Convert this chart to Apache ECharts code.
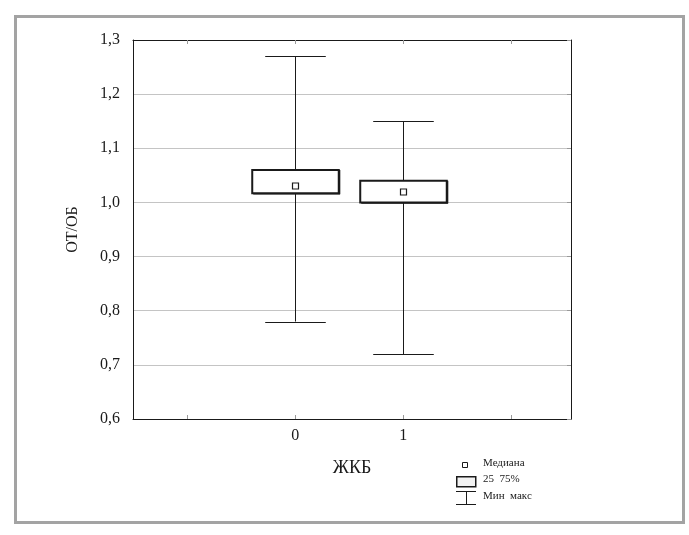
<!DOCTYPE html>
<html>
<head>
<meta charset="utf-8">
<script src="https://cdn.jsdelivr.net/npm/echarts@6/dist/echarts.min.js"></script>
<style>
  html, body { margin: 0; padding: 0; background: #fff; }
</style>
</head>
<body>
<div id="chart" style="width:689px;height:535px;"></div>
<script>
  // ЖКБ groups and box statistics for ОТ/ОБ
  const groups = [0, 1];
  const whiskerLow = [0.78, 0.72];
  const quart25 = [1.017, 1.0];
  const medians = [1.03, 1.02];
  const quart75 = [1.06, 1.04];
  const whiskerHigh = [1.27, 1.15];
  const xTickValues = [-1, 0, 1, 2];
  const legendLabels = ['Медиана', '25  75%', 'Мин  макс'];

  const font = '"Liberation Serif", "DejaVu Serif", serif';
  const ink = '#1a1a1a';

  const boxData = groups.map((g, i) => [g, whiskerLow[i], quart25[i], medians[i], quart75[i], whiskerHigh[i]]);

  function renderBox(params, api) {
    const x = api.value(0);
    const pMin = api.coord([x, api.value(1)]);
    const pQ1 = api.coord([x, api.value(2)]);
    const pMed = api.coord([x, api.value(3)]);
    const pQ3 = api.coord([x, api.value(4)]);
    const pMax = api.coord([x, api.value(5)]);
    const boxHalf = api.size([0.4, 0])[0];
    const capHalf = api.size([0.28, 0])[0];
    const cx = Math.round(pMin[0]) + 0.5;
    const lineStyle = { stroke: ink, lineWidth: 1 };
    return {
      type: 'group',
      children: [
        { type: 'line', shape: { x1: cx, y1: pMax[1], x2: cx, y2: pMin[1] }, style: lineStyle },
        { type: 'line', shape: { x1: cx - capHalf, y1: Math.round(pMax[1]) + 0.5, x2: cx + capHalf, y2: Math.round(pMax[1]) + 0.5 }, style: lineStyle },
        { type: 'line', shape: { x1: cx - capHalf, y1: Math.round(pMin[1]) + 0.5, x2: cx + capHalf, y2: Math.round(pMin[1]) + 0.5 }, style: lineStyle },
        {
          type: 'rect',
          shape: { x: cx - boxHalf, y: pQ3[1], width: boxHalf * 2, height: pQ1[1] - pQ3[1] },
          style: { fill: '#fff', stroke: ink, lineWidth: 2 }
        },
        {
          type: 'line',
          shape: { x1: cx - boxHalf + 1, y1: pQ1[1] + 0.5, x2: cx + boxHalf + 1, y2: pQ1[1] + 0.5 },
          style: { stroke: ink, lineWidth: 1.5 }
        },
        {
          type: 'line',
          shape: { x1: cx + boxHalf + 0.8, y1: pQ3[1], x2: cx + boxHalf + 0.8, y2: pQ1[1] + 1 },
          style: { stroke: ink, lineWidth: 1.5 }
        },
        {
          type: 'rect',
          shape: { x: cx - 3, y: Math.round(pMed[1]) - 3, width: 6, height: 6 },
          style: { fill: '#fff', stroke: ink, lineWidth: 1.2 }
        }
      ]
    };
  }

  const legendX = 456;
  const legendText = (y, s) => ({
    type: 'text', left: legendX + 27, top: y,
    style: { text: s, font: '11px ' + font, fill: ink }
  });

  const chart = echarts.init(document.getElementById('chart'));
  chart.setOption({
    animation: false,
    backgroundColor: '#fff',
    grid: { left: 133, right: 118, top: 40, bottom: 116 },
    xAxis: [
      {
        type: 'value', min: -1.5, max: 2.55,
        name: 'ЖКБ', nameLocation: 'middle', nameGap: 40,
        nameTextStyle: { fontFamily: font, fontSize: 18, color: ink },
        axisLine: { show: true, onZero: false, lineStyle: { color: ink } },
        axisTick: { show: true, inside: true, length: 4, customValues: xTickValues, lineStyle: { color: '#999' } },
        axisLabel: { customValues: groups, fontFamily: font, fontSize: 16, color: ink, margin: 9 },
        splitLine: { show: false }
      },
      {
        type: 'value', min: -1.5, max: 2.55, position: 'top',
        axisLine: { show: true, onZero: false, lineStyle: { color: ink } },
        axisTick: { show: true, inside: true, length: 4, customValues: xTickValues, lineStyle: { color: '#999' } },
        axisLabel: { show: false },
        splitLine: { show: false }
      }
    ],
    yAxis: [
      {
        type: 'value', min: 0.6, max: 1.3, interval: 0.1,
        name: 'ОТ/ОБ', nameLocation: 'middle', nameGap: 52,
        nameTextStyle: { fontFamily: font, fontSize: 16, color: ink },
        axisLine: { show: true, onZero: false, lineStyle: { color: ink } },
        axisTick: { show: false },
        axisLabel: {
          fontFamily: font, fontSize: 16, color: ink, margin: 13,
          formatter: v => v.toFixed(1).replace('.', ',')
        },
        splitLine: { show: true, lineStyle: { color: '#c4c4c4', width: 1 } }
      },
      {
        type: 'value', min: 0.6, max: 1.3, interval: 0.1, position: 'right',
        axisLine: { show: true, onZero: false, lineStyle: { color: ink } },
        axisTick: { show: true, inside: true, length: 4, lineStyle: { color: '#999' } },
        axisLabel: { show: false },
        splitLine: { show: false }
      }
    ],
    series: [
      {
        type: 'custom',
        renderItem: renderBox,
        encode: { x: 0, y: [1, 2, 3, 4, 5] },
        data: boxData,
        clip: false,
        z: 5
      }
    ],
    graphic: [
      {
        type: 'rect', left: 13, top: 14, silent: true,
        shape: { width: 668, height: 506 },
        style: { fill: 'none', stroke: '#a3a3a3', lineWidth: 3 }
      },
      // legend
      { type: 'rect', left: legendX + 6, top: 462, shape: { width: 5, height: 5 }, style: { fill: '#fff', stroke: ink, lineWidth: 1 } },
      legendText(458, legendLabels[0]),
      { type: 'rect', left: legendX, top: 476, shape: { width: 19, height: 10 }, style: { fill: '#f2f2f2', stroke: ink, lineWidth: 1.5 } },
      legendText(474, legendLabels[1]),
      { type: 'line', shape: { x1: legendX, y1: 491.5, x2: legendX + 20, y2: 491.5 }, style: { stroke: ink, lineWidth: 1 } },
      { type: 'line', shape: { x1: legendX + 10.5, y1: 491.5, x2: legendX + 10.5, y2: 504.5 }, style: { stroke: ink, lineWidth: 1 } },
      { type: 'line', shape: { x1: legendX, y1: 504.5, x2: legendX + 20, y2: 504.5 }, style: { stroke: ink, lineWidth: 1 } },
      legendText(491, legendLabels[2])
    ]
  });
</script>
</body>
</html>
